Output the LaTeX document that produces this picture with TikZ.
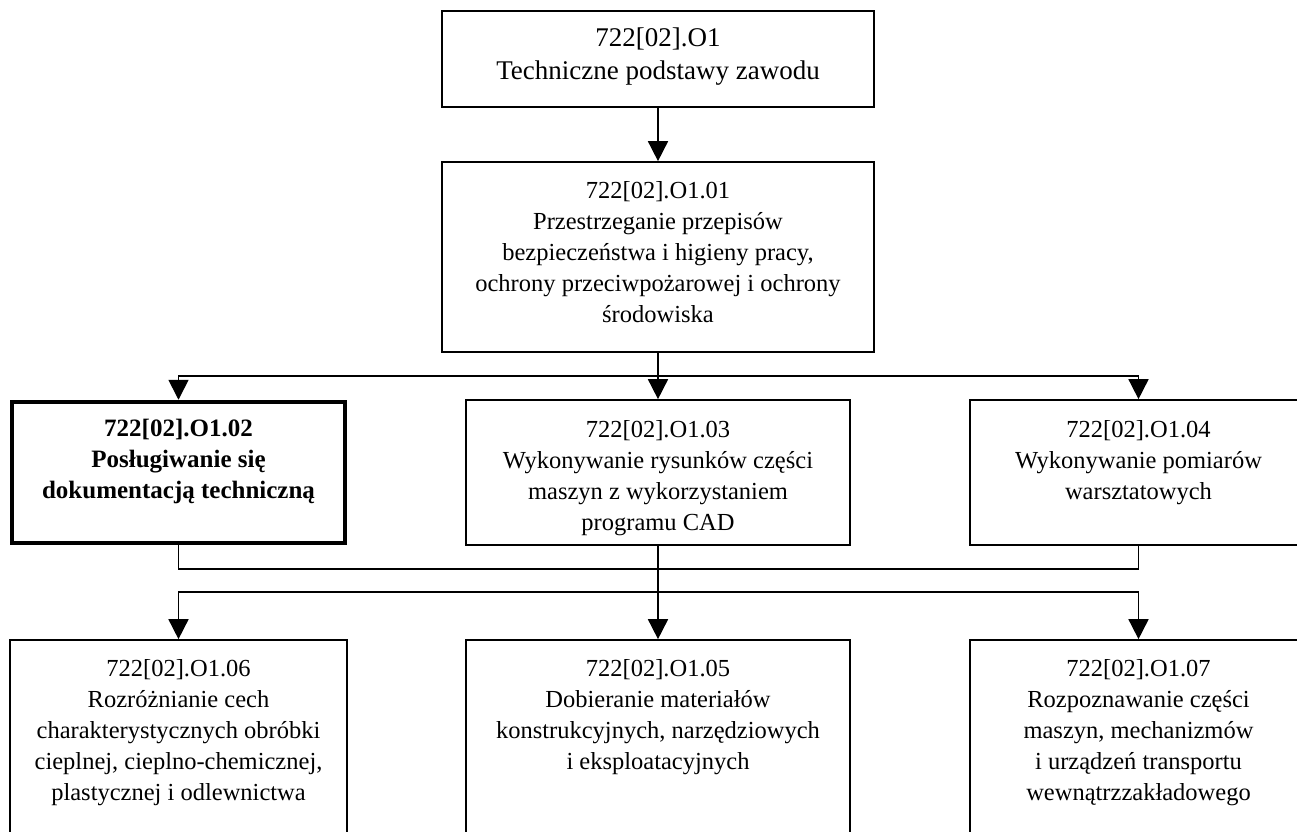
\documentclass[tikz,border=0pt]{standalone}
\usepackage{fontspec}
\setmainfont{Liberation Serif}
\usetikzlibrary{arrows.meta,calc}
\begin{document}
\begin{tikzpicture}[x=1pt,y=-1pt,
  tbox/.style={draw, line width=1.7pt, inner sep=0pt},
  boldbox/.style={draw, line width=4.5pt, inner sep=0pt},
  txt/.style={anchor=north, align=center, inner sep=0pt, font=\fontsize{24.5}{31}\selectfont},
  conn/.style={line width=1.7pt},
  arr/.style={line width=1.7pt, -{Triangle[length=20pt,width=20pt]}}
]
\useasboundingbox (0,0) rectangle (1297,831);
\clip (0,0) rectangle (1297,831);
\fill[white] (0,0) rectangle (1297,831);

% boxes
\node[tbox, minimum width=432pt, minimum height=96pt] (o1) at (658,59) {};
\node[tbox, minimum width=432pt, minimum height=190pt] (o101) at (658,257) {};
\node[boldbox, minimum width=333pt, minimum height=141pt] (o102) at (178.5,472.5) {};
\node[tbox, minimum width=384pt, minimum height=145pt] (o103) at (658,472.5) {};
\node[tbox, minimum width=337pt, minimum height=145pt] (o104) at (1138.5,472.5) {};
\node[tbox, minimum width=337pt, minimum height=250pt] (o106) at (178.5,765) {};
\node[tbox, minimum width=384pt, minimum height=250pt] (o105) at (658,765) {};
\node[tbox, minimum width=337pt, minimum height=250pt] (o107) at (1138.5,765) {};

% texts
\node[txt, font=\fontsize{27}{33}\selectfont] (t1) at ([yshift=-17pt]o1.north) {722[02].O1\\Techniczne podstawy zawodu};
\node[txt] (t101) at ([yshift=-20pt]o101.north) {722[02].O1.01\\Przestrzeganie przepisów\\bezpieczeństwa i higieny pracy,\\ochrony przeciwpożarowej i ochrony\\środowiska};
\node[txt, font=\fontsize{25}{31}\selectfont\bfseries] (t102) at ([yshift=-19.5pt]o102.north) {722[02].O1.02\\Posługiwanie się\\dokumentacją techniczną};
\node[txt] (t103) at ([yshift=-21.5pt]o103.north) {722[02].O1.03\\Wykonywanie rysunków części\\maszyn z wykorzystaniem\\programu CAD};
\node[txt] (t104) at ([yshift=-21.5pt]o104.north) {722[02].O1.04\\Wykonywanie pomiarów\\warsztatowych};
\node[txt] (t106) at ([yshift=-20pt]o106.north) {722[02].O1.06\\Rozróżnianie cech\\charakterystycznych obróbki\\cieplnej, cieplno-chemicznej,\\plastycznej i odlewnictwa};
\node[txt] (t105) at ([yshift=-20pt]o105.north) {722[02].O1.05\\Dobieranie materiałów\\konstrukcyjnych, narzędziowych\\i eksploatacyjnych};
\node[txt] (t107) at ([yshift=-20pt]o107.north) {722[02].O1.07\\Rozpoznawanie części\\maszyn, mechanizmów\\i urządzeń transportu\\wewnątrzzakładowego};

% connectors
\draw[arr] (o1) -- (o101);
\coordinate (b1) at (658,376);
\draw[conn] (o101.south) -- (b1);
\draw[arr] (b1) -| (o102.north);
\draw[arr] (b1) -- (o103.north);
\draw[arr] (b1) -| (o104.north);
\coordinate (b2) at (658,569);
\draw[conn] (o102.south) |- (b2) -| (o104.south);
\draw[arr] (o103) -- (o105);
\coordinate (b3) at (658,592);
\draw[arr] (b3) -| (o106.north);
\draw[arr] (b3) -| (o107.north);
\end{tikzpicture}
\end{document}
